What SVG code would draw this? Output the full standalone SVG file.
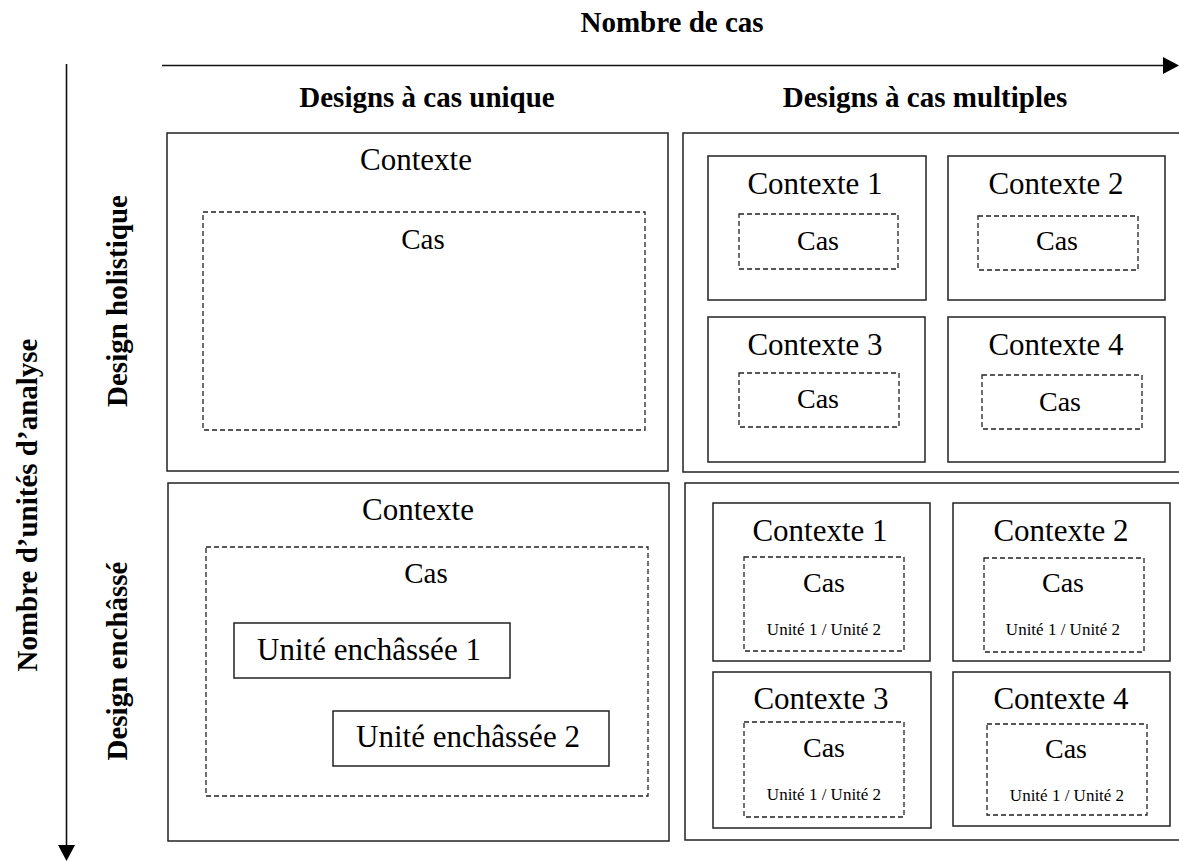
<svg xmlns="http://www.w3.org/2000/svg" width="1179" height="861" viewBox="0 0 1179 861">
<style>
.box{fill:none;stroke:#222;stroke-width:1.5}
.dash{fill:none;stroke:#222;stroke-width:1.3;stroke-dasharray:5 3}
.axis{fill:none;stroke:#111;stroke-width:1.6}
text{font-family:"Liberation Serif","Times New Roman",serif;fill:#000;text-anchor:middle}
.hd{font-weight:bold;font-size:29px}
.ctx{font-size:31px}
.cas{font-size:29px}
.cas2{font-size:28px}
.un{font-size:17px}
.ue{font-size:31px}
</style>
<rect width="1179" height="861" fill="#fff"/>
<g id="connectors">
<line class="axis" x1="162" y1="65.5" x2="1166" y2="65.5"/>
<polygon points="1163,57 1179,65.5 1163,74" fill="#000"/>
<line class="axis" x1="66.5" y1="64" x2="66.5" y2="848"/>
<polygon points="58,845 75,845 66.5,861" fill="#000"/>
</g>
<g id="labels">
<text class="hd" x="672" y="32">Nombre de cas</text>
<text class="hd" x="427" y="107">Designs à cas unique</text>
<text class="hd" x="925" y="107">Designs à cas multiples</text>
<text class="hd" transform="translate(37,505) rotate(-90)">Nombre d’unités d’analyse</text>
<text class="hd" transform="translate(127,301) rotate(-90)">Design holistique</text>
<text class="hd" transform="translate(127,661) rotate(-90)">Design enchâssé</text>
</g>
<g id="single-holistic">
<rect class="box" x="167" y="133" width="501" height="338"/>
<text class="ctx" x="416" y="170">Contexte</text>
<rect class="dash" x="203" y="212" width="442" height="218"/>
<text class="cas" x="423" y="249">Cas</text>
</g>
<g id="multi-holistic">
<rect class="box" x="683" y="133" width="510" height="339"/>
<g id="mh-c1">
<rect class="box" x="708" y="156" width="218" height="144"/>
<text class="ctx" x="815" y="194">Contexte 1</text>
<rect class="dash" x="739" y="214" width="159" height="55"/>
<text class="cas2" x="818" y="250">Cas</text>
</g>
<g id="mh-c2">
<rect class="box" x="948" y="156" width="217" height="144"/>
<text class="ctx" x="1056" y="194">Contexte 2</text>
<rect class="dash" x="978" y="216" width="160" height="54"/>
<text class="cas2" x="1057" y="250">Cas</text>
</g>
<g id="mh-c3">
<rect class="box" x="708" y="317" width="217" height="145"/>
<text class="ctx" x="815" y="355">Contexte 3</text>
<rect class="dash" x="739" y="373" width="160" height="54"/>
<text class="cas2" x="818" y="408">Cas</text>
</g>
<g id="mh-c4">
<rect class="box" x="948" y="317" width="217" height="145"/>
<text class="ctx" x="1056" y="355">Contexte 4</text>
<rect class="dash" x="982" y="375" width="160" height="54"/>
<text class="cas2" x="1060" y="411">Cas</text>
</g>
</g>
<g id="single-embedded">
<rect class="box" x="168" y="483" width="501" height="358"/>
<text class="ctx" x="418" y="520">Contexte</text>
<rect class="dash" x="206" y="547" width="442" height="249"/>
<text class="cas" x="426" y="583">Cas</text>
<g id="unit1">
<rect class="box" x="234" y="623" width="276" height="55"/>
<text class="ue" x="369" y="660">Unité enchâssée 1</text>
</g>
<g id="unit2">
<rect class="box" x="333" y="711" width="276" height="55"/>
<text class="ue" x="468" y="747">Unité enchâssée 2</text>
</g>
</g>
<g id="multi-embedded">
<rect class="box" x="685" y="483" width="510" height="357"/>
<g id="me-c1">
<rect class="box" x="713" y="503" width="217" height="158"/>
<text class="ctx" x="820" y="541">Contexte 1</text>
<rect class="dash" x="744" y="557" width="160" height="94"/>
<text class="cas2" x="824" y="592">Cas</text>
<text class="un" x="824" y="635">Unité 1 / Unité 2</text>
</g>
<g id="me-c2">
<rect class="box" x="953" y="503" width="217" height="158"/>
<text class="ctx" x="1061" y="541">Contexte 2</text>
<rect class="dash" x="984" y="558" width="160" height="94"/>
<text class="cas2" x="1063" y="592">Cas</text>
<text class="un" x="1063" y="635">Unité 1 / Unité 2</text>
</g>
<g id="me-c3">
<rect class="box" x="713" y="672" width="218" height="156"/>
<text class="ctx" x="821" y="709">Contexte 3</text>
<rect class="dash" x="744" y="722" width="160" height="95"/>
<text class="cas2" x="824" y="757">Cas</text>
<text class="un" x="824" y="800">Unité 1 / Unité 2</text>
</g>
<g id="me-c4">
<rect class="box" x="953" y="672" width="217" height="154"/>
<text class="ctx" x="1061" y="709">Contexte 4</text>
<rect class="dash" x="987" y="724" width="160" height="91"/>
<text class="cas2" x="1066" y="758">Cas</text>
<text class="un" x="1067" y="801">Unité 1 / Unité 2</text>
</g>
</g>
</svg>
